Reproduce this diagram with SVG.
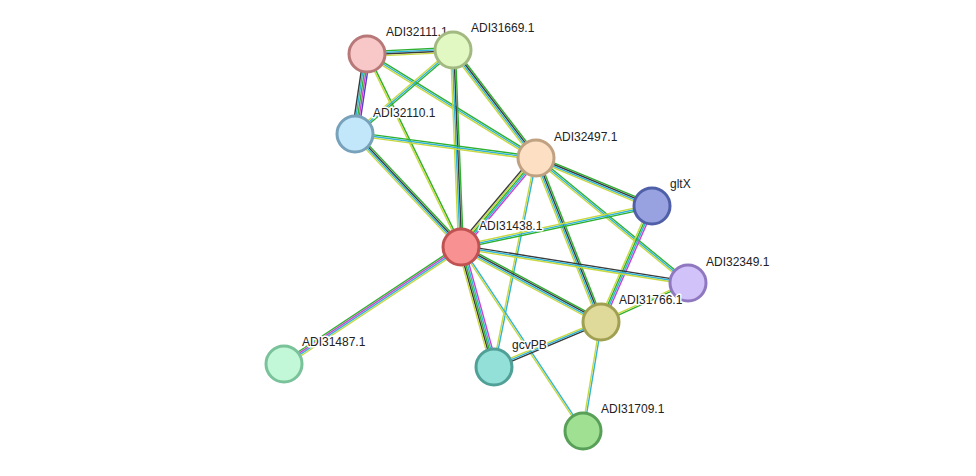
<svg xmlns="http://www.w3.org/2000/svg" width="976" height="476" viewBox="0 0 976 476">
<style>
line{stroke-width:1.4;fill:none}
.g{stroke:#2fb02f}.b{stroke:#30b4d8}.k{stroke:#3a3a3a}.y{stroke:#c8d840}.m{stroke:#d040d0}.p{stroke:#5040c0}
circle{stroke-width:3}
text{font-family:"Liberation Sans",Arial,sans-serif;font-size:12px;fill:#222;stroke:#fff;stroke-width:3;paint-order:stroke;stroke-linejoin:round}
</style>
<rect width="976" height="476" fill="#fff"/>
<g id="edges">
<g transform="translate(367,54) rotate(-2.7)"><line class="g" x1="0" y1="-2.4" x2="86" y2="-2.4"/><line class="b" x1="0" y1="-0.8" x2="86" y2="-0.8"/><line class="k" x1="0" y1="0.8" x2="86" y2="0.8"/><line class="y" x1="0" y1="2.4" x2="86" y2="2.4"/></g>
<g transform="translate(367,54) rotate(98.5)"><line class="p" x1="0" y1="-3.2" x2="81" y2="-3.2"/><line class="m" x1="0" y1="-1.6" x2="81" y2="-1.6"/><line class="g" x1="0" y1="0" x2="81" y2="0"/><line class="b" x1="0" y1="1.6" x2="81" y2="1.6"/><line class="k" x1="0" y1="3.2" x2="81" y2="3.2"/></g>
<g transform="translate(367,54) rotate(31.6)"><line class="g" x1="0" y1="-1.6" x2="198" y2="-1.6"/><line class="b" x1="0" y1="0" x2="198" y2="0"/><line class="y" x1="0" y1="1.6" x2="198" y2="1.6"/></g>
<g transform="translate(367,54) rotate(64)"><line class="g" x1="0" y1="-0.8" x2="215" y2="-0.8"/><line class="y" x1="0" y1="0.8" x2="215" y2="0.8"/></g>
<g transform="translate(453,50) rotate(139.4)"><line class="g" x1="0" y1="-1.6" x2="129" y2="-1.6"/><line class="b" x1="0" y1="0" x2="129" y2="0"/><line class="y" x1="0" y1="1.6" x2="129" y2="1.6"/></g>
<g transform="translate(453,50) rotate(52.5)"><line class="g" x1="0" y1="-2.4" x2="136" y2="-2.4"/><line class="k" x1="0" y1="-0.8" x2="136" y2="-0.8"/><line class="b" x1="0" y1="0.8" x2="136" y2="0.8"/><line class="y" x1="0" y1="2.4" x2="136" y2="2.4"/></g>
<g transform="translate(453,50) rotate(87.7)"><line class="g" x1="0" y1="-2.4" x2="197" y2="-2.4"/><line class="k" x1="0" y1="-0.8" x2="197" y2="-0.8"/><line class="b" x1="0" y1="0.8" x2="197" y2="0.8"/><line class="y" x1="0" y1="2.4" x2="197" y2="2.4"/></g>
<g transform="translate(355,134) rotate(7.6)"><line class="g" x1="0" y1="-1.6" x2="183" y2="-1.6"/><line class="b" x1="0" y1="0" x2="183" y2="0"/><line class="y" x1="0" y1="1.6" x2="183" y2="1.6"/></g>
<g transform="translate(355,134) rotate(46.8)"><line class="g" x1="0" y1="-2.4" x2="155" y2="-2.4"/><line class="k" x1="0" y1="-0.8" x2="155" y2="-0.8"/><line class="b" x1="0" y1="0.8" x2="155" y2="0.8"/><line class="y" x1="0" y1="2.4" x2="155" y2="2.4"/></g>
<g transform="translate(536,158) rotate(130.1)"><line class="m" x1="0" y1="-3.2" x2="116" y2="-3.2"/><line class="b" x1="0" y1="-1.6" x2="116" y2="-1.6"/><line class="g" x1="0" y1="0" x2="116" y2="0"/><line class="y" x1="0" y1="1.6" x2="116" y2="1.6"/><line class="k" x1="0" y1="3.2" x2="116" y2="3.2"/></g>
<g transform="translate(536,158) rotate(22.5)"><line class="g" x1="0" y1="-2.4" x2="125" y2="-2.4"/><line class="k" x1="0" y1="-0.8" x2="125" y2="-0.8"/><line class="b" x1="0" y1="0.8" x2="125" y2="0.8"/><line class="y" x1="0" y1="2.4" x2="125" y2="2.4"/></g>
<g transform="translate(536,158) rotate(39.4)"><line class="g" x1="0" y1="-1.6" x2="197" y2="-1.6"/><line class="b" x1="0" y1="0" x2="197" y2="0"/><line class="y" x1="0" y1="1.6" x2="197" y2="1.6"/></g>
<g transform="translate(536,158) rotate(68.4)"><line class="g" x1="0" y1="-2.4" x2="176" y2="-2.4"/><line class="k" x1="0" y1="-0.8" x2="176" y2="-0.8"/><line class="b" x1="0" y1="0.8" x2="176" y2="0.8"/><line class="y" x1="0" y1="2.4" x2="176" y2="2.4"/></g>
<g transform="translate(536,158) rotate(101.4)"><line class="b" x1="0" y1="-0.8" x2="213" y2="-0.8"/><line class="y" x1="0" y1="0.8" x2="213" y2="0.8"/></g>
<g transform="translate(652,206) rotate(167.9)"><line class="g" x1="0" y1="-1.6" x2="195" y2="-1.6"/><line class="b" x1="0" y1="0" x2="195" y2="0"/><line class="y" x1="0" y1="1.6" x2="195" y2="1.6"/></g>
<g transform="translate(652,206) rotate(113.7)"><line class="m" x1="0" y1="-2.4" x2="127" y2="-2.4"/><line class="b" x1="0" y1="-0.8" x2="127" y2="-0.8"/><line class="g" x1="0" y1="0.8" x2="127" y2="0.8"/><line class="y" x1="0" y1="2.4" x2="127" y2="2.4"/></g>
<g transform="translate(461,247) rotate(9)"><line class="k" x1="0" y1="-1.6" x2="230" y2="-1.6"/><line class="b" x1="0" y1="0" x2="230" y2="0"/><line class="y" x1="0" y1="1.6" x2="230" y2="1.6"/></g>
<g transform="translate(461,247) rotate(28.2)"><line class="g" x1="0" y1="-2.4" x2="159" y2="-2.4"/><line class="k" x1="0" y1="-0.8" x2="159" y2="-0.8"/><line class="b" x1="0" y1="0.8" x2="159" y2="0.8"/><line class="y" x1="0" y1="2.4" x2="159" y2="2.4"/></g>
<g transform="translate(461,247) rotate(146.5)"><line class="y" x1="0" y1="-2.4" x2="212" y2="-2.4"/><line class="b" x1="0" y1="-0.8" x2="212" y2="-0.8"/><line class="m" x1="0" y1="0.8" x2="212" y2="0.8"/><line class="g" x1="0" y1="2.4" x2="212" y2="2.4"/></g>
<g transform="translate(461,247) rotate(74.6)"><line class="m" x1="0" y1="-3.2" x2="125" y2="-3.2"/><line class="b" x1="0" y1="-1.6" x2="125" y2="-1.6"/><line class="g" x1="0" y1="0" x2="125" y2="0"/><line class="k" x1="0" y1="1.6" x2="125" y2="1.6"/><line class="y" x1="0" y1="3.2" x2="125" y2="3.2"/></g>
<g transform="translate(461,247) rotate(56.5)"><line class="b" x1="0" y1="-0.8" x2="221" y2="-0.8"/><line class="y" x1="0" y1="0.8" x2="221" y2="0.8"/></g>
<g transform="translate(688,283) rotate(155.9)"><line class="g" x1="0" y1="-0.8" x2="95" y2="-0.8"/><line class="y" x1="0" y1="0.8" x2="95" y2="0.8"/></g>
<g transform="translate(601,322) rotate(157.2)"><line class="k" x1="0" y1="-1.6" x2="116" y2="-1.6"/><line class="b" x1="0" y1="0" x2="116" y2="0"/><line class="y" x1="0" y1="1.6" x2="116" y2="1.6"/></g>
<g transform="translate(601,322) rotate(99.4)"><line class="b" x1="0" y1="-0.8" x2="110" y2="-0.8"/><line class="y" x1="0" y1="0.8" x2="110" y2="0.8"/></g>
</g>
<g id="n-ADI32111"><circle cx="367" cy="54" r="18" fill="#f8c8c8" stroke="#b87878"/><text x="386" y="36">ADI32111.1</text></g>
<g id="n-ADI31669"><circle cx="453" cy="50" r="18" fill="#e2f8c2" stroke="#a2ba82"/><text x="471" y="32">ADI31669.1</text></g>
<g id="n-ADI32110"><circle cx="355" cy="134" r="18" fill="#c2e6fa" stroke="#78a2ba"/><text x="373" y="117">ADI32110.1</text></g>
<g id="n-ADI32497"><circle cx="536" cy="158" r="18" fill="#fde0c4" stroke="#c0a282"/><text x="554" y="141">ADI32497.1</text></g>
<g id="n-gltX"><circle cx="652" cy="206" r="18" fill="#98a2e0" stroke="#5060a8"/><text x="670" y="188">gltX</text></g>
<g id="n-ADI31438"><circle cx="461" cy="247" r="18" fill="#f89292" stroke="#c05252"/><text x="479" y="230">ADI31438.1</text></g>
<g id="n-ADI32349"><circle cx="688" cy="283" r="18" fill="#d2c2fa" stroke="#9078c0"/><text x="706" y="266">ADI32349.1</text></g>
<g id="n-ADI31766"><circle cx="601" cy="322" r="18" fill="#e0da9a" stroke="#a0a052"/><text x="619" y="304">ADI31766.1</text></g>
<g id="n-ADI31487"><circle cx="284" cy="364" r="18" fill="#c2f8d8" stroke="#7ac29a"/><text x="302" y="346">ADI31487.1</text></g>
<g id="n-gcvPB"><circle cx="494" cy="367" r="18" fill="#92e0d8" stroke="#50a098"/><text x="512" y="349">gcvPB</text></g>
<g id="n-ADI31709"><circle cx="583" cy="431" r="18" fill="#a0e092" stroke="#58a058"/><text x="601" y="413">ADI31709.1</text></g>
</svg>
